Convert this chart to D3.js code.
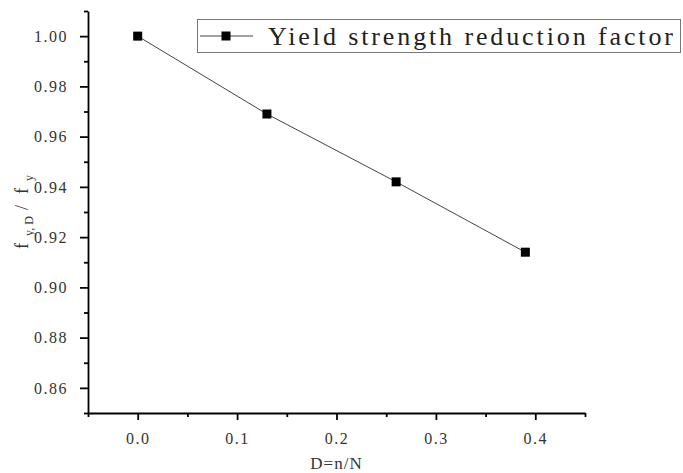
<!DOCTYPE html>
<html>
<head>
<meta charset="utf-8">
<script src="https://cdn.jsdelivr.net/npm/d3@7"></script>
<style>
  body { margin: 0; background: #fff; }
  svg { display: block; }
</style>
</head>
<body>
<svg id="chart" width="683" height="473"></svg>
<script>
// data
const damage = [0, 0.13, 0.26, 0.39];
const reduction = [1.000, 0.969, 0.942, 0.914];
const xMajor = [0, 0.1, 0.2, 0.3, 0.4];
const xMinor = [-0.05, 0.05, 0.15, 0.25, 0.35, 0.45];
const yMajor = [0.86, 0.88, 0.90, 0.92, 0.94, 0.96, 0.98, 1.00];
const yMinor = [0.85, 0.87, 0.89, 0.91, 0.93, 0.95, 0.97, 0.99, 1.01];
const seriesName = "Yield strength reduction factor";

const FONT = '"Liberation Serif", "Times New Roman", "DejaVu Serif", serif';

const svg = d3.select("#chart");
const W = 683, H = 473;
const margin = { top: 11, right: 98, bottom: 60, left: 88 };

const x = d3.scaleLinear().domain([-0.05, 0.45]).range([margin.left, W - margin.right]);
const y = d3.scaleLinear().domain([0.85, 1.01]).range([H - margin.bottom, margin.top]);

const points = damage.map((d, i) => ({ x: d, y: reduction[i] }));

// line + markers
svg.append("path")
  .datum(points)
  .attr("fill", "none")
  .attr("stroke", "#444")
  .attr("stroke-width", 1)
  .attr("d", d3.line().x(d => x(d.x)).y(d => y(d.y)));

const ms = 9;
svg.append("g").selectAll("rect")
  .data(points)
  .enter()
  .append("rect")
  .attr("x", d => x(d.x) - ms / 2)
  .attr("y", d => y(d.y) - ms / 2)
  .attr("width", ms)
  .attr("height", ms)
  .attr("fill", "#000");

// axes (minor ticks drawn as a second axis with no labels)
const axisW = 1.8;
const xAxisY = H - margin.bottom;

svg.append("g")
  .attr("transform", `translate(0,${xAxisY})`)
  .call(d3.axisBottom(x).tickValues(xMinor).tickSize(4).tickSizeOuter(0).tickFormat(""))
  .call(g => g.select(".domain").remove());

svg.append("g")
  .attr("transform", `translate(0,${xAxisY})`)
  .call(d3.axisBottom(x).tickValues(xMajor).tickSize(7).tickSizeOuter(0).tickPadding(13)
    .tickFormat(d3.format(".1f")));

svg.append("g")
  .attr("transform", `translate(${margin.left},0)`)
  .call(d3.axisLeft(y).tickValues(yMinor).tickSize(4).tickSizeOuter(0).tickFormat(""))
  .call(g => g.select(".domain").remove());

svg.append("g")
  .attr("transform", `translate(${margin.left},0)`)
  .call(d3.axisLeft(y).tickValues(yMajor).tickSize(8).tickSizeOuter(0).tickPadding(12)
    .tickFormat(d3.format(".2f")));

svg.selectAll(".domain").attr("stroke", "#000").attr("stroke-width", axisW);
svg.selectAll(".tick line").attr("stroke", "#000").attr("stroke-width", axisW);
svg.selectAll(".tick text")
  .style("font-family", FONT)
  .style("font-size", "16px")
  .style("letter-spacing", "1.5px")
  .attr("fill", "#333");

// axis titles
svg.append("text")
  .attr("x", (x.range()[0] + x.range()[1]) / 2)
  .attr("y", 469)
  .attr("text-anchor", "middle")
  .style("font-family", FONT)
  .style("font-size", "17px")
  .style("letter-spacing", "1px")
  .attr("fill", "#333")
  .text("D=n/N");

// rotated y title: local x = -screenY
const yt = svg.append("text")
  .attr("transform", "translate(28,0) rotate(-90)")
  .style("font-family", FONT)
  .style("font-size", "18px")
  .attr("fill", "#333");
yt.append("tspan").attr("x", -249).attr("y", 0).text("f");
yt.append("tspan").attr("x", -236).attr("y", 5).style("font-size", "12px").text("y, D");
yt.append("tspan").attr("x", -210).attr("y", 0).text("/");
yt.append("tspan").attr("x", -194).attr("y", 0).text("f");
yt.append("tspan").attr("x", -181).attr("y", 5).style("font-size", "12px").text("y");

// legend
const lg = svg.append("g");
lg.append("rect")
  .attr("x", 197.5).attr("y", 19.5)
  .attr("width", 483).attr("height", 33)
  .attr("fill", "#fff")
  .attr("stroke", "#777")
  .attr("stroke-width", 1);
lg.append("line")
  .attr("x1", 200).attr("x2", 253)
  .attr("y1", 36).attr("y2", 36)
  .attr("stroke", "#444").attr("stroke-width", 1);
lg.append("rect")
  .attr("x", 226 - ms / 2).attr("y", 36 - ms / 2)
  .attr("width", ms).attr("height", ms)
  .attr("fill", "#000");
lg.append("text")
  .attr("x", 268)
  .attr("y", 45)
  .style("font-family", FONT)
  .style("font-size", "26px")
  .attr("fill", "#222")
  .attr("textLength", 405)
  .attr("lengthAdjust", "spacing")
  .text(seriesName);
</script>
</body>
</html>
